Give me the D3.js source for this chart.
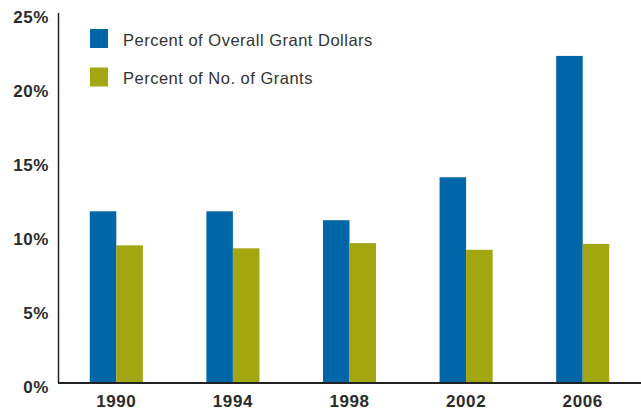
<!DOCTYPE html>
<meta charset="utf-8">
<style>
body { margin: 0; background: #fff; }
.tick-label { font-family: "Liberation Sans", Arial, sans-serif; font-weight: bold; font-size: 17px; letter-spacing: 0.6px; fill: #2b2b2b; }
.legend text { font-family: "Liberation Sans", Arial, sans-serif; font-size: 16.5px; letter-spacing: 0.5px; fill: #333; }
</style>
<svg width="641" height="411"></svg>
<script src="https://cdn.jsdelivr.net/npm/d3@7"></script>
<script>

var years = ["1990", "1994", "1998", "2002", "2006"];
var dollarsPct = [11.6, 11.6, 11.0, 13.9, 22.1];
var grantsPct = [9.3, 9.1, 9.45, 9.0, 9.4];
var yTicks = [0, 5, 10, 15, 20, 25];
var seriesNames = ["Percent of Overall Grant Dollars", "Percent of No. of Grants"];
var colors = ["#0066a8", "#a2a60f"];

var svg = d3.select("svg");

var x = d3.scaleBand()
    .domain(years)
    .range([58, 641])
    .paddingInner(0.545)
    .paddingOuter(0.2725);

var y = d3.scaleLinear()
    .domain([0, 25])
    .range([383, 13]);

var bw = x.bandwidth() / 2;

// bars
var series = [dollarsPct, grantsPct];
series.forEach(function(vals, s) {
  svg.append("g")
    .selectAll("rect")
    .data(vals)
    .enter().append("rect")
      .attr("x", function(d, i) { return x(years[i]) + s * bw; })
      .attr("y", function(d) { return y(d); })
      .attr("width", bw)
      .attr("height", function(d) { return y(0) - y(d); })
      .attr("fill", colors[s]);
});

// y axis: line + labels
svg.append("line")
    .attr("x1", 58.5).attr("x2", 58.5)
    .attr("y1", y(25)).attr("y2", y(0))
    .attr("stroke", "#222").attr("stroke-width", 1.5);

svg.append("g")
  .selectAll("text")
  .data(yTicks)
  .enter().append("text")
    .attr("class", "tick-label")
    .attr("x", 49)
    .attr("y", function(d) { return y(d) + 4; })
    .attr("dy", "0.35em")
    .attr("text-anchor", "end")
    .text(function(d) { return d + "%"; });

// x axis
svg.append("line")
    .attr("x1", 58).attr("x2", 641)
    .attr("y1", y(0)).attr("y2", y(0))
    .attr("stroke", "#222").attr("stroke-width", 2);

svg.append("g")
  .selectAll("text")
  .data(years)
  .enter().append("text")
    .attr("class", "tick-label")
    .attr("x", function(d) { return x(d) + x.bandwidth() / 2; })
    .attr("y", 401)
    .attr("dy", "0.35em")
    .attr("text-anchor", "middle")
    .text(function(d) { return d; });

// legend
var legend = svg.append("g").attr("class", "legend")
  .selectAll("g")
  .data(seriesNames)
  .enter().append("g")
    .attr("transform", function(d, i) { return "translate(90," + (29 + i * 38.5) + ")"; });

legend.append("rect")
    .attr("width", 18).attr("height", 19)
    .attr("fill", function(d, i) { return colors[i]; });

legend.append("text")
    .attr("x", 33)
    .attr("y", 11)
    .attr("dy", "0.35em")
    .text(function(d) { return d; });

</script>
